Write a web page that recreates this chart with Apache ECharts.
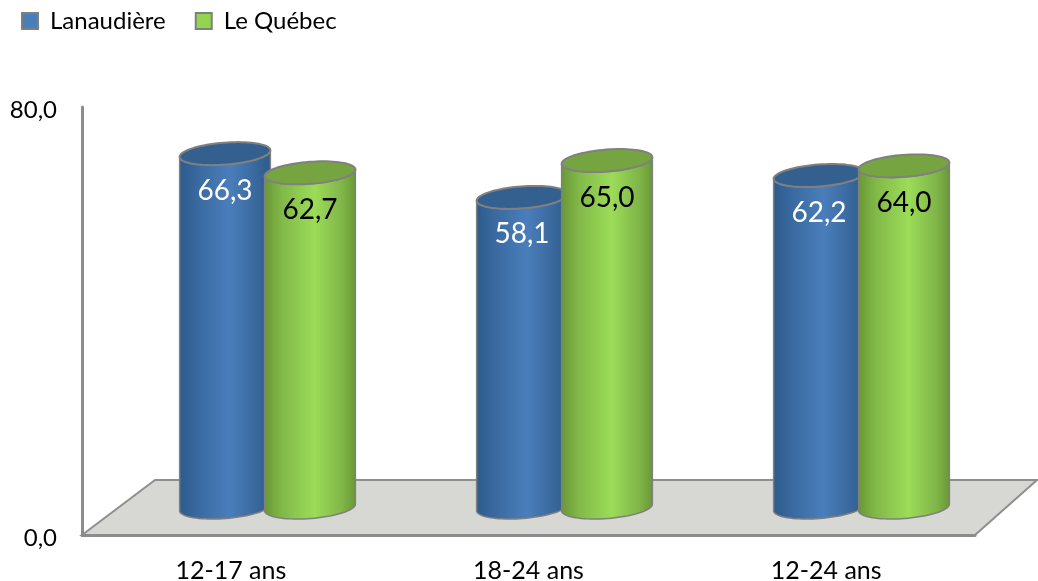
<!DOCTYPE html>
<html><head><meta charset="utf-8">
<style>html,body{margin:0;padding:0;background:#fff}#c{width:1038px;height:581px}</style>
<script src="https://cdn.jsdelivr.net/npm/echarts@6/dist/echarts.min.js"></script>
</head><body><div id="c"></div>
<script>
const categories = ['12-17 ans', '18-24 ans', '12-24 ans'];
const lanaudiere = [66.3, 58.1, 62.2];
const quebec = [62.7, 65.0, 64.0];
const seriesNames = ['Lanaudière', 'Le Québec'];
const yTicks = [0, 80];

const FONT = 'Lato, "Open Sans", sans-serif';
const RAD_X = 45.5, RAD_Y = 11, TILT = 4.4 * Math.PI / 180;
const fr = v => v.toFixed(1).replace('.', ',');

function ellipsePts(cx, cy, from, to, n) {
  const pts = [];
  for (let i = 0; i <= n; i++) {
    const t = from + (to - from) * i / n;
    const ex = RAD_X * Math.cos(t), ey = RAD_Y * Math.sin(t);
    pts.push([cx + ex * Math.cos(TILT) + ey * Math.sin(TILT), cy - ex * Math.sin(TILT) + ey * Math.cos(TILT)]);
  }
  return pts;
}

function cylinder(shift, stops, topColor, labelColor) {
  return function (params, api) {
    const idx = api.value(0), val = api.value(1);
    const top = api.coord([idx, val]), base = api.coord([idx, 0]);
    const cx = top[0] + shift;
    const lower = ellipsePts(cx, base[1], Math.PI, 0, 40);
    const upperFront = ellipsePts(cx, top[1], 0, Math.PI, 40);
    const whole = ellipsePts(cx, top[1], 0, 2 * Math.PI, 80);
    return {
      type: 'group',
      children: [
        { type: 'polygon', shape: { points: lower.concat(upperFront) },
          style: { fill: { type: 'linear', x: 0, y: 0, x2: 1, y2: 0, colorStops: stops },
                   stroke: '#7f7f7f', lineWidth: 1.5, lineJoin: 'round' } },
        { type: 'polygon', shape: { points: whole },
          style: { fill: topColor, stroke: '#808080', lineWidth: 2 } },
        { type: 'text', style: { text: fr(val), x: cx, y: top[1] + 37, align: 'center', verticalAlign: 'middle',
            textAlign: 'center', textVerticalAlign: 'middle', fontSize: 28, fontFamily: FONT, fill: labelColor } }
      ]
    };
  };
}

const blueStops = [
  { offset: 0, color: '#2c5a8c' }, { offset: 0.2, color: '#39699f' },
  { offset: 0.55, color: '#4a7ebb' }, { offset: 0.85, color: '#38679b' }, { offset: 1, color: '#2d5a8b' }
];
const greenStops = [
  { offset: 0, color: '#689736' }, { offset: 0.2, color: '#82b948' },
  { offset: 0.55, color: '#9bdc58' }, { offset: 0.85, color: '#80b548' }, { offset: 1, color: '#699736' }
];

const chart = echarts.init(document.getElementById('c'), null, { renderer: 'canvas' });
chart.setOption({
  animation: false,
  backgroundColor: '#fff',
  legend: {
    left: 16, top: 4, itemWidth: 16, itemHeight: 16, itemGap: 29,
    textStyle: { fontFamily: FONT, fontSize: 24, color: '#000', padding: [0, 0, 0, 7] },
    data: [
      { name: seriesNames[0], icon: 'rect', itemStyle: { color: '#4a7ebb', borderColor: '#7f7f7f', borderWidth: 2 } },
      { name: seriesNames[1], icon: 'rect', itemStyle: { color: '#92d650', borderColor: '#7f7f7f', borderWidth: 2 } }
    ]
  },
  grid: [
    { left: 82, top: 107, width: 893, height: 428, outerBoundsMode: 'none' },
    { left: 119, top: 80.5, width: 891, height: 427, outerBoundsMode: 'none' }
  ],
  xAxis: [
    { gridIndex: 0, type: 'category', data: categories,
      axisLine: { lineStyle: { color: '#8c8c8c', width: 3 } }, axisTick: { show: false },
      axisLabel: { margin: 23, color: '#000', fontFamily: FONT, fontSize: 25 }, z: 5 },
    { gridIndex: 1, type: 'category', data: categories, show: false }
  ],
  yAxis: [
    { gridIndex: 0, type: 'value', min: yTicks[0], max: yTicks[1], interval: yTicks[1],
      axisLine: { show: true, lineStyle: { color: '#8c8c8c', width: 3 } }, axisTick: { show: false },
      splitLine: { show: false },
      axisLabel: { margin: 25, color: '#000', formatter: v => '{t|' + fr(v) + '}',
        rich: { t: { fontFamily: FONT, fontSize: 24, color: '#000', padding: [6, 0, 0, 0] } } }, z: 5 },
    { gridIndex: 1, type: 'value', min: yTicks[0], max: yTicks[1], show: false, splitLine: { show: false } }
  ],
  series: [
    { type: 'custom', name: 'plancher', xAxisIndex: 0, yAxisIndex: 0, silent: true, z: 1,
      clip: false, data: [[0, 0]],
      renderItem: function (params, api) {
        const g = params.coordSys, b = g.y + g.height, r = g.x + g.width;
        return { type: 'polygon',
          shape: { points: [[g.x, b], [g.x + 73, b - 55], [r + 62, b - 55], [r, b]] },
          style: { fill: '#d7d8d3', stroke: '#8f8f8f', lineWidth: 2 } };
      } },
    { type: 'custom', name: seriesNames[0], xAxisIndex: 1, yAxisIndex: 1, z: 2, clip: false,
      itemStyle: { color: '#4a7ebb' }, encode: { x: 0, y: 1 },
      data: lanaudiere.map((v, i) => [i, v]),
      renderItem: cylinder(-42.5, blueStops, '#33608f', '#fff') },
    { type: 'custom', name: seriesNames[1], xAxisIndex: 1, yAxisIndex: 1, z: 3, clip: false,
      itemStyle: { color: '#92d650' }, encode: { x: 0, y: 1 },
      data: quebec.map((v, i) => [i, v]),
      renderItem: cylinder(42.5, greenStops, '#75a440', '#000') }
  ]
});
</script></body></html>
